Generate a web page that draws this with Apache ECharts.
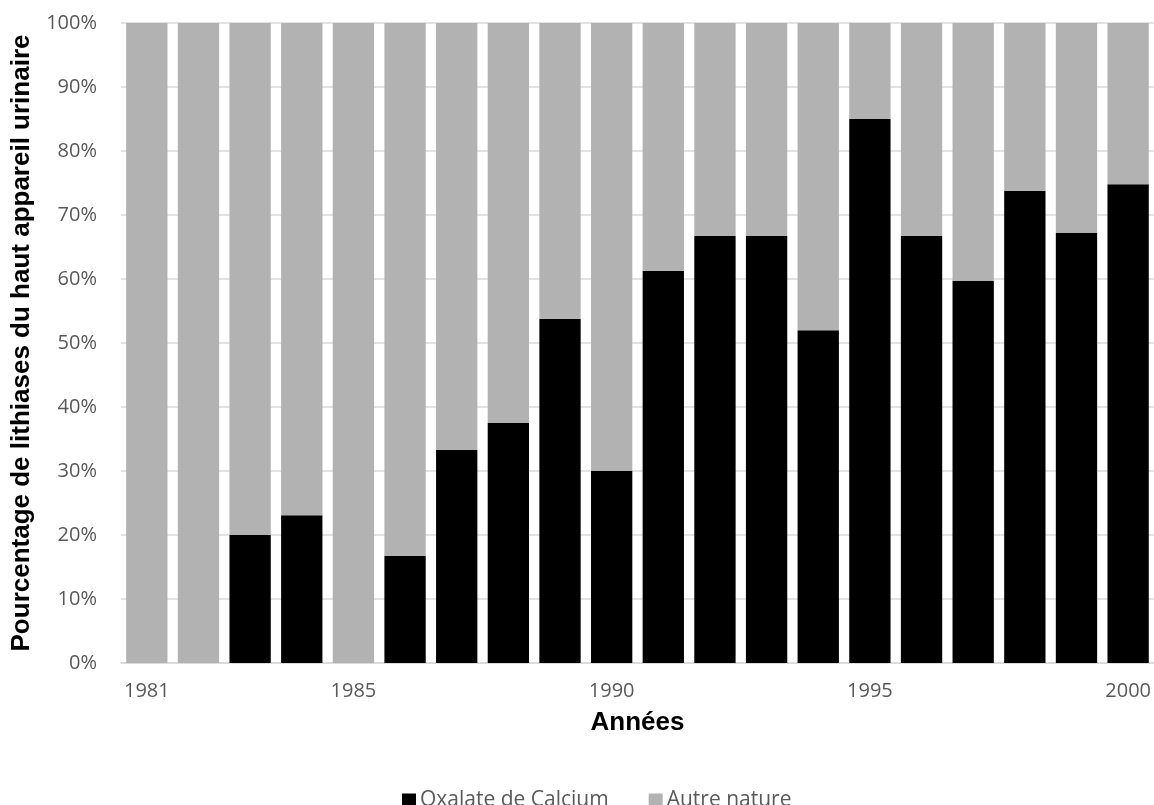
<!DOCTYPE html>
<html>
<head>
<meta charset="utf-8">
<script src="https://cdn.jsdelivr.net/npm/echarts@6/dist/echarts.min.js"></script>
<style>
  html, body { margin: 0; padding: 0; background: #ffffff; }
  #chart { width: 1154px; height: 805px; }
</style>
</head>
<body>
<div id="chart"></div>
<script>
// Years on the category axis
const years = ['1981','1982','1983','1984','1985','1986','1987','1988','1989','1990',
               '1991','1992','1993','1994','1995','1996','1997','1998','1999','2000'];
// Years that carry a tick label
const labeledYears = ['1981','1985','1990','1995','2000'];

// Share of each kind of stone per year (%)
const oxalateCalcium = [0, 0, 20, 23.1, 0, 16.7, 33.3, 37.5, 53.8, 30,
                        61.3, 66.7, 66.7, 52, 85, 66.7, 59.7, 73.8, 67.2, 74.8];
const autreNature    = [100, 100, 80, 76.9, 100, 83.3, 66.7, 62.5, 46.2, 70,
                        38.7, 33.3, 33.3, 48, 15, 33.3, 40.3, 26.2, 32.8, 25.2];

const tickFont = { fontFamily: 'Open Sans', fontSize: 20, color: '#595959' };
const titleFont = { fontFamily: 'Liberation Sans', fontSize: 26, fontWeight: 'bold', color: '#000000' };

const chart = echarts.init(document.getElementById('chart'), null, { renderer: 'canvas' });
chart.setOption({
  animation: false,
  backgroundColor: '#ffffff',
  grid: { left: 121, right: 0, top: 23, bottom: 142, containLabel: false },
  legend: {
    left: 397,
    top: 785,
    icon: 'rect',
    itemWidth: 14,
    itemHeight: 14,
    itemGap: 40,
    textStyle: { fontFamily: 'Open Sans', fontSize: 21, color: '#595959', padding: [0, 0, 0, -1] },
    data: ['Oxalate de Calcium', 'Autre nature']
  },
  xAxis: {
    type: 'category',
    data: years,
    name: 'Années',
    nameLocation: 'middle',
    nameGap: 47,
    nameTextStyle: titleFont,
    axisLine: { show: true, lineStyle: { color: '#d9d9d9', width: 1.5 } },
    axisTick: { show: false },
    axisLabel: Object.assign({
      margin: 18,
      interval: 0,
      formatter: (v) => labeledYears.includes(v) ? v : ''
    }, tickFont)
  },
  yAxis: {
    type: 'value',
    min: 0,
    max: 100,
    interval: 10,
    name: 'Pourcentage de lithiases du haut appareil urinaire',
    nameLocation: 'middle',
    nameGap: 84,
    nameTextStyle: titleFont,
    axisLine: { show: false },
    axisTick: { show: false },
    splitLine: { show: true, lineStyle: { color: '#d9d9d9', width: 1.5 } },
    axisLabel: Object.assign({ margin: 24, formatter: '{value}%' }, tickFont)
  },
  series: [
    {
      name: 'Oxalate de Calcium',
      type: 'bar',
      stack: 'total',
      data: oxalateCalcium,
      barCategoryGap: '20%',
      itemStyle: { color: '#000000' }
    },
    {
      name: 'Autre nature',
      type: 'bar',
      stack: 'total',
      data: autreNature,
      barCategoryGap: '20%',
      itemStyle: { color: '#b2b2b2' }
    }
  ]
});
</script>
</body>
</html>
